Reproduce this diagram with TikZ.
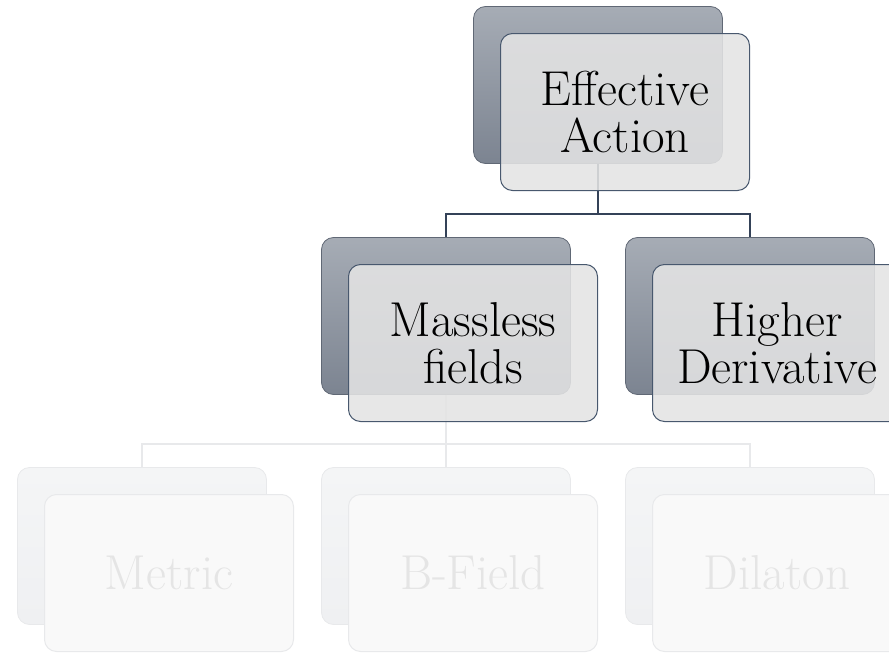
\documentclass[tikz,border=0pt]{standalone}
\usepackage{xcolor}
\definecolor{backtop}{RGB}{166,172,181}
\definecolor{backbottom}{RGB}{124,132,145}
\definecolor{backline}{RGB}{96,104,117}
\definecolor{frontfill}{RGB}{228,228,228}
\definecolor{frontline}{RGB}{72,88,110}
\definecolor{linkdark}{RGB}{52,66,88}
\definecolor{fadetop}{RGB}{244,245,246}
\definecolor{fadebottom}{RGB}{239,240,242}
\definecolor{fadeline}{RGB}{232,233,235}
\definecolor{fadefill}{RGB}{249,249,249}
\definecolor{fadetext}{RGB}{229,229,229}
\usepackage{tikz}
\usetikzlibrary{calc}
\newcommand{\widthbox}{249pt}
\newcommand{\heightbox}{157pt}
\newcommand{\shiftfront}{27}
\newcommand{\labelfont}{\fontsize{49}{47}\selectfont}
\tikzset{
    common/.style={rectangle, rounded corners=12pt, minimum width=\widthbox, minimum height=\heightbox, inner sep=0pt},
    back/.style={common, draw=backline, line width=0.8pt, top color=backtop, bottom color=backbottom},
    front/.style={common, draw=frontline, line width=1pt, fill=frontfill, fill opacity=0.88, text opacity=1, align=center, font=\labelfont},
    fadeback/.style={common, draw=fadeline, line width=0.8pt, top color=fadetop, bottom color=fadebottom},
    fadefront/.style={common, draw=fadeline, line width=1pt, fill=fadefill, text=fadetext, align=center, font=\labelfont},
    link/.style={draw=linkdark, line width=1.5pt},
    fadelink/.style={draw=fadeline, line width=1.5pt}
}
\begin{document}
\begin{tikzpicture}[x=1pt, y=-1pt]
                \useasboundingbox (0,0) rectangle (889,653);

                \path
                    (598,85) node[back] (EA-back) {}
                    ++(-152,231) node[back] (MF-back) {}
                    ++(304,0) node[back] (HD-back) {};

                \path
                    (142,546) node[fadeback] (ME-back) {}
                    ++(304,0) node[fadeback] (BF-back) {}
                    ++(304,0) node[fadeback] (DI-back) {};

                \draw[link]
                  (EA-back.south) -- ++(0,50) -| (MF-back.north)
                  (EA-back.south) -- ++(0,50) -| (HD-back.north);

                \draw[fadelink]
                  (MF-back.south) -- ++(0,49) -| (ME-back.north)
                  (MF-back.south) -- ++(0,49) -| (BF-back.north)
                  (MF-back.south) -- ++(0,49) -| (DI-back.north);

                \node[front] (EA) at ($(EA-back)+(\shiftfront,\shiftfront)$) {Effective\\Action};
                \node[front] (MF) at ($(MF-back)+(\shiftfront,\shiftfront)$) {Massless\\fields};
                \node[front] (HD) at ($(HD-back)+(\shiftfront,\shiftfront)$) {Higher\\Derivative};
                \node[fadefront] (ME) at ($(ME-back)+(\shiftfront,\shiftfront)$) {Metric};
                \node[fadefront] (BF) at ($(BF-back)+(\shiftfront,\shiftfront)$) {B-Field};
                \node[fadefront] (DI) at ($(DI-back)+(\shiftfront,\shiftfront)$) {Dilaton};
\end{tikzpicture}
\end{document}
